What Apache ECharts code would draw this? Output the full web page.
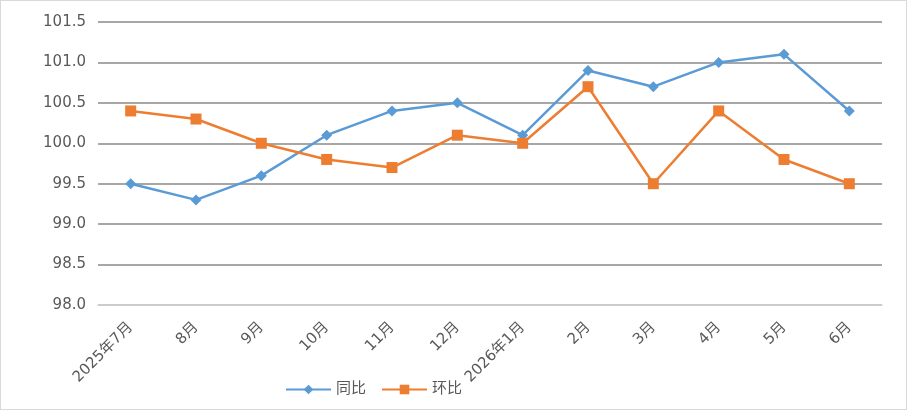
<!DOCTYPE html>
<html>
<head>
<meta charset="utf-8">
<script src="https://cdn.jsdelivr.net/npm/echarts@6/dist/echarts.min.js"></script>
<style>
  html, body { margin: 0; padding: 0; background: #fff; }
  #chart { width: 907px; height: 410px; box-sizing: border-box; border: 1px solid #d9d9d9; }
</style>
</head>
<body>
<div id="chart"></div>
<script>
const months = ['2025年7月', '8月', '9月', '10月', '11月', '12月', '2026年1月', '2月', '3月', '4月', '5月', '6月'];
const yoy = [99.5, 99.3, 99.6, 100.1, 100.4, 100.5, 100.1, 100.9, 100.7, 101.0, 101.1, 100.4];
const mom = [100.4, 100.3, 100.0, 99.8, 99.7, 100.1, 100.0, 100.7, 99.5, 100.4, 99.8, 99.5];

const chart = echarts.init(document.getElementById('chart'));
const font = '"DejaVu Sans", "Noto Sans CJK SC", sans-serif';

chart.setOption({
    animation: false,
    textStyle: { fontFamily: font },
    grid: { left: 97, right: 24, top: 21, bottom: 104 },
    legend: {
        top: 376,
        left: 279,
        itemWidth: 45,
        itemHeight: 12,
        itemGap: 15,
        textStyle: { fontSize: 15, color: '#595959', fontFamily: font },
        data: ['同比', '环比']
    },
    xAxis: {
        type: 'category',
        data: months,
        boundaryGap: true,
        axisLine: { lineStyle: { color: '#d9d9d9', width: 1.5 } },
        axisTick: { show: false },
        axisLabel: {
            rotate: 45,
            color: '#595959',
            fontSize: 15,
            margin: 20,
            interval: 0,
            fontFamily: font
        }
    },
    yAxis: {
        type: 'value',
        min: 98,
        max: 101.5,
        interval: 0.5,
        axisLine: { show: false },
        axisTick: { show: false },
        splitLine: { lineStyle: { color: '#8a8a8a', width: 1.5 } },
        axisLabel: {
            color: '#595959',
            fontSize: 15,
            margin: 12,
            fontFamily: font,
            formatter: v => v.toFixed(1)
        }
    },
    series: [
        {
            name: '同比',
            type: 'line',
            data: yoy,
            symbol: 'diamond',
            symbolSize: 11,
            itemStyle: { color: '#5B9BD5' },
            lineStyle: { color: '#5B9BD5', width: 2.5 }
        },
        {
            name: '环比',
            type: 'line',
            data: mom,
            symbol: 'rect',
            symbolSize: 11,
            itemStyle: { color: '#ED7D31' },
            lineStyle: { color: '#ED7D31', width: 2.5 }
        }
    ]
});
</script>
</body>
</html>
